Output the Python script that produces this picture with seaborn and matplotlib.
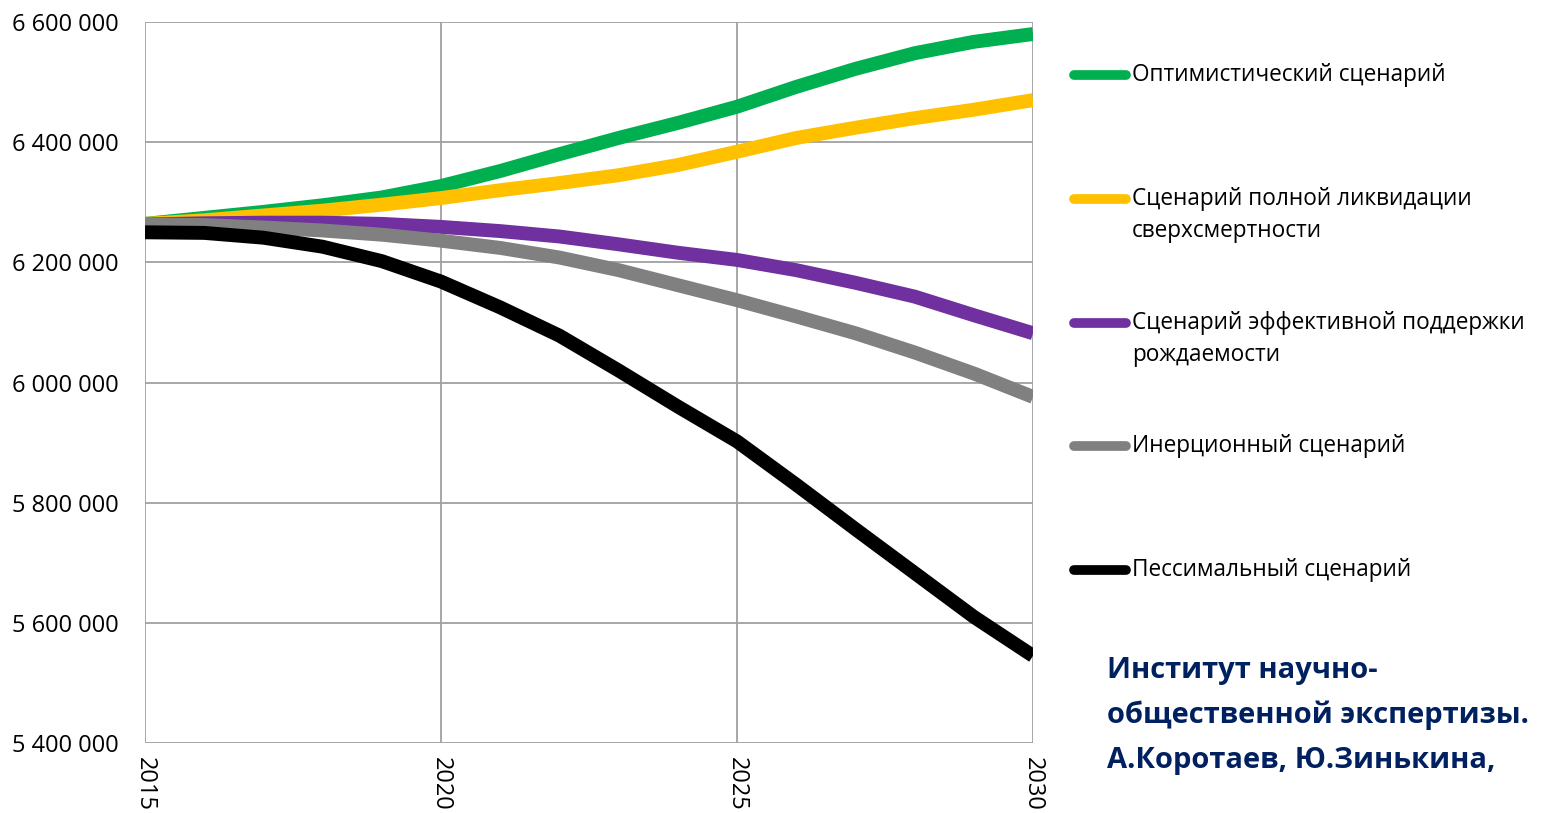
import matplotlib
matplotlib.use("Agg")
import matplotlib.pyplot as plt
from matplotlib.lines import Line2D
from matplotlib.ticker import FuncFormatter
import pandas as pd
import seaborn as sns

# data (thousands of people)
years = list(range(2015, 2031))
optimistic = [6264, 6274, 6284, 6295, 6308, 6327, 6352, 6380, 6407, 6432, 6459, 6492, 6522, 6548, 6567, 6580]
no_excess = [6264, 6270, 6278, 6286, 6296, 6307, 6320, 6332, 6345, 6362, 6384, 6407, 6424, 6440, 6454, 6470]
birth_support = [6263, 6265, 6266, 6266, 6264, 6259, 6252, 6243, 6230, 6216, 6204, 6187, 6166, 6143, 6112, 6082]
inertial = [6263, 6262, 6258, 6253, 6246, 6236, 6224, 6208, 6187, 6162, 6137, 6110, 6082, 6050, 6015, 5976]
pessimal = [6250, 6249, 6241, 6226, 6202, 6168, 6125, 6078, 6020, 5960, 5902, 5830, 5756, 5683, 5610, 5545]

labels = ['Оптимистический сценарий',
          'Сценарий полной ликвидации\nсверхсмертности',
          'Сценарий эффективной поддержки\nрождаемости',
          'Инерционный сценарий',
          'Пессимальный сценарий']
colors = ['#00B050', '#FFC000', '#7030A0', '#808080', '#000000']
series = [optimistic, no_excess, birth_support, inertial, pessimal]

rows = []
for lab, vals in zip(labels, series):
    for y, v in zip(years, vals):
        rows.append({'year': y, 'pop': v * 1000, 'scenario': lab})
df = pd.DataFrame(rows)

sns.set_style('white')
plt.rcParams['font.family'] = ['Open Sans', 'DejaVu Sans']
plt.rcParams['text.color'] = 'black'
plt.rcParams['xtick.color'] = 'black'
plt.rcParams['ytick.color'] = 'black'

fig = plt.figure(figsize=(15.5, 8.13), dpi=100)
ax = fig.add_axes([145 / 1550, 1 - 743 / 813, (1033 - 145) / 1550, (743 - 22) / 813])

sns.lineplot(data=df, x='year', y='pop', hue='scenario', hue_order=labels,
             palette=colors, linewidth=10, legend=False, ax=ax)
for ln in ax.lines:
    ln.set_solid_capstyle('butt')
    ln.set_solid_joinstyle('round')

ax.set_xlim(2015, 2030)
ax.set_ylim(5400000, 6600000)
ax.set_xticks([2015, 2020, 2025, 2030])
ax.set_yticks(range(5400000, 6600001, 200000))
ax.yaxis.set_major_formatter(FuncFormatter(lambda v, p: f'{int(v):,}'.replace(',', ' ')))
ax.grid(True, color='#A0A0A0', linewidth=1.3)
ax.set_axisbelow(True)
for s in ax.spines.values():
    s.set_visible(False)
ax.tick_params(axis='y', length=6, width=1.3, color='#A0A0A0', labelcolor='black',
               pad=13, labelsize=17)
ax.tick_params(axis='x', length=6, width=1.3, color='#A0A0A0', labelcolor='black',
               pad=4, labelsize=17, labelrotation=270)
ax.set_xlabel('')
ax.set_ylabel('')

# legend on the right, drawn by hand to keep the Excel layout
leg_y = [75, 199, 323, 446, 570]
for lab, col, yc in zip(labels, colors, leg_y):
    fy = 1 - yc / 813
    fig.add_artist(Line2D([1074 / 1550, 1126 / 1550], [fy, fy], color=col, lw=7,
                          solid_capstyle='round', transform=fig.transFigure))
    for i, part in enumerate(lab.split('\n')):
        fig.text(1132 / 1550, 1 - (yc + i * 32) / 813, part, fontsize=16.3,
                 va='center', ha='left')

credit = ['Институт научно-', 'общественной экспертизы.', 'А.Коротаев, Ю.Зинькина,']
for i, part in enumerate(credit):
    fig.text(1107 / 1550, 1 - (670 + i * 45) / 813, part, fontsize=21,
             fontweight='bold', color='#002060', va='center', ha='left')

fig.savefig('out.png', dpi=100)
